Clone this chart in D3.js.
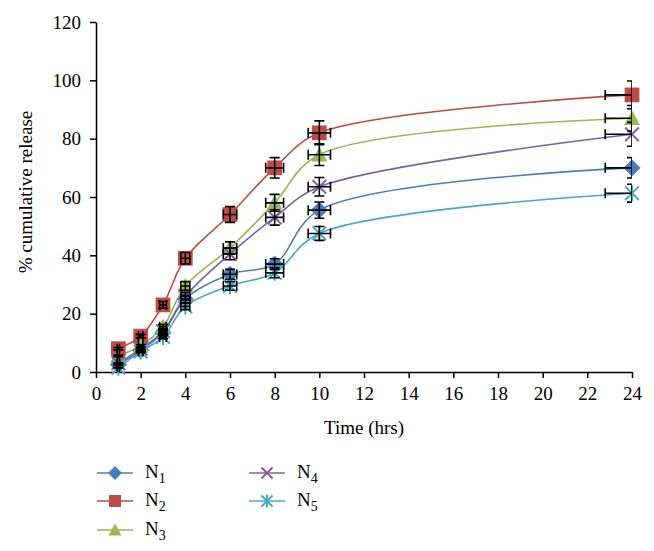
<!DOCTYPE html>
<html>
<head>
<meta charset="utf-8">
<script src="https://cdn.jsdelivr.net/npm/d3@7"></script>
<style>
  html, body { margin: 0; padding: 0; background: #fff; }
  svg { display: block; }
  svg text { font-family: "Liberation Serif", "Times New Roman", "DejaVu Serif", serif; fill: #000; }
</style>
</head>
<body>
<svg id="chart" width="654" height="551"></svg>
<script>
// ---- data ----
const times = [1, 2, 3, 4, 6, 8, 10, 24];
const n1 = [2.5, 7.5, 13.5, 25, 33.5, 37, 55.5, 70];
const n2 = [8, 12.3, 23, 39, 54, 70, 82, 95];
const n3 = [5.5, 9, 15.5, 29.5, 42.5, 58, 74.5, 87];
const n4 = [3, 8, 14, 26, 40.5, 53, 63.5, 81.5];
const n5 = [1.5, 7, 12, 22.5, 29.5, 34, 47.5, 61.3];
const seriesNames = ["1", "2", "3", "4", "5"];
const seriesColors = ["#4a7ebb", "#be4b48", "#98b954", "#7d60a0", "#46aac5"];
const seriesMarkers = ["diamond", "square", "triangle", "x", "asterisk"];
const xTicks = [0, 2, 4, 6, 8, 10, 12, 14, 16, 18, 20, 22, 24];
const yTicks = [0, 20, 40, 60, 80, 100, 120];
const errPct = 0.05; // percentage error bars (both directions)

const allSeries = [n1, n2, n3, n4, n5];

(function () {
const svg = d3.select("#chart");
const pL = 96, pR = 632, pT = 22, pB = 372;
const x = d3.scaleLinear().domain([0, 24]).range([pL, pR]);
const y = d3.scaleLinear().domain([0, 120]).range([pB, pT]);
const fontSize = 19;
const serif = '"Liberation Serif", "Times New Roman", "DejaVu Serif", serif';

// clip for error bars
svg.append("defs").append("clipPath").attr("id", "plotclip")
  .append("rect").attr("x", pL).attr("y", pT - 2)
  .attr("width", pR - pL).attr("height", pB - pT + 2);

// axes
const xAxis = svg.append("g").attr("transform", `translate(0,${pB})`)
  .call(d3.axisBottom(x).tickValues(xTicks).tickSize(6).tickPadding(9).tickSizeOuter(0));
const yAxis = svg.append("g").attr("transform", `translate(${pL},0)`)
  .call(d3.axisLeft(y).tickValues(yTicks).tickSize(6).tickPadding(9).tickSizeOuter(0));
[xAxis, yAxis].forEach(g => {
  g.attr("font-family", null).attr("font-size", null);
  g.selectAll("path, line").attr("stroke", "#000").attr("stroke-width", 1.5);
  g.selectAll("text").style("font-size", fontSize + "px").style("font-family", serif).attr("fill", "#000");
});

// axis titles
svg.append("text").attr("x", (pL + pR) / 2).attr("y", 434)
  .attr("text-anchor", "middle").style("font-size", fontSize + "px").text("Time (hrs)");
svg.append("text").attr("transform", `translate(32,192) rotate(-90)`)
  .attr("text-anchor", "middle").style("font-size", fontSize + "px").text("% cumulative release");

// marker drawing
function drawMarker(g, type, color, cx, cy, s) {
  const h = s / 2;
  if (type === "diamond") {
    g.append("path").attr("d", `M${cx},${cy - h}L${cx + h},${cy}L${cx},${cy + h}L${cx - h},${cy}Z`)
      .attr("fill", color).attr("stroke", color).attr("stroke-width", 1);
  } else if (type === "square") {
    const q = h * 0.92;
    g.append("rect").attr("x", cx - q).attr("y", cy - q).attr("width", 2 * q).attr("height", 2 * q)
      .attr("fill", color);
  } else if (type === "triangle") {
    g.append("path").attr("d", `M${cx},${cy - h}L${cx + h},${cy + h * 0.85}L${cx - h},${cy + h * 0.85}Z`)
      .attr("fill", color);
  } else if (type === "x") {
    const q = h * 0.85;
    g.append("path").attr("d", `M${cx - q},${cy - q}L${cx + q},${cy + q}M${cx - q},${cy + q}L${cx + q},${cy - q}`)
      .attr("stroke", color).attr("stroke-width", 2).attr("fill", "none");
  } else if (type === "asterisk") {
    const q = h * 0.85;
    g.append("path").attr("d", `M${cx - q},${cy - q}L${cx + q},${cy + q}M${cx - q},${cy + q}L${cx + q},${cy - q}M${cx},${cy - h}L${cx},${cy + h}`)
      .attr("stroke", color).attr("stroke-width", 2).attr("fill", "none");
  }
}

const line = d3.line().x((d, i) => x(times[i])).y(d => y(d)).curve(d3.curveCatmullRom.alpha(0.5));

// lines
allSeries.forEach((vals, si) => {
  svg.append("path").datum(vals).attr("d", line)
    .attr("fill", "none").attr("stroke", seriesColors[si]).attr("stroke-width", 1.6);
});

// markers
allSeries.forEach((vals, si) => {
  const g = svg.append("g");
  vals.forEach((v, i) => drawMarker(g, seriesMarkers[si], seriesColors[si], x(times[i]), y(v), 16));
});

// error bars (on top, clipped to plot area)
const eb = svg.append("g").attr("clip-path", "url(#plotclip)")
  .attr("stroke", "#000").attr("stroke-width", 1.6).attr("fill", "none");
const cap = 5;
allSeries.forEach(vals => {
  vals.forEach((v, i) => {
    const t = times[i];
    const cx = x(t), cy = y(v);
    const yHi = y(v * (1 + errPct)), yLo = y(v * (1 - errPct));
    const xHi = x(t * (1 + errPct)), xLo = x(t * (1 - errPct));
    eb.append("path").attr("d",
      `M${cx},${yHi}L${cx},${yLo}M${cx - cap},${yHi}L${cx + cap},${yHi}M${cx - cap},${yLo}L${cx + cap},${yLo}` +
      `M${xLo},${cy}L${xHi},${cy}M${xLo},${cy - cap}L${xLo},${cy + cap}M${xHi},${cy - cap}L${xHi},${cy + cap}`);
  });
});

// legend
const legendPos = [[97, 473], [97, 501], [97, 530], [249, 473], [249, 501]];
seriesNames.forEach((nm, si) => {
  const [lx, ly] = legendPos[si];
  const g = svg.append("g");
  g.append("line").attr("x1", lx).attr("x2", lx + 36).attr("y1", ly).attr("y2", ly)
    .attr("stroke", seriesColors[si]).attr("stroke-width", 1.6);
  drawMarker(g, seriesMarkers[si], seriesColors[si], lx + 18, ly, 13);
  const t = g.append("text").attr("x", lx + 48).attr("y", ly + 5).style("font-size", fontSize + "px");
  t.append("tspan").text("N");
  t.append("tspan").style("font-size", "14px").attr("dy", 5).text(nm);
});
})();
</script>
</body>
</html>
